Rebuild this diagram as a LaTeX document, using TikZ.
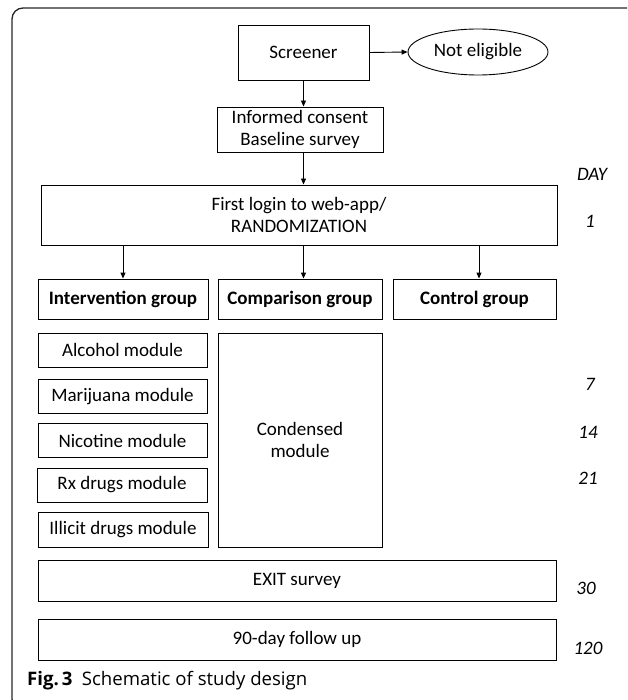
\documentclass[tikz,border=0pt]{standalone}
\usepackage{fontspec}
\setmainfont{Carlito}
\newfontfamily\capfont{Open Sans}
\usetikzlibrary{arrows.meta,shapes.geometric}
\begin{document}
\begin{tikzpicture}[x=1pt,y=-1pt,
  box/.style={draw=black, line width=0.9pt, rectangle, inner sep=0pt, align=center,
    font=\fontsize{19}{22}\selectfont},
  oval/.style={draw=black, line width=0.9pt, ellipse, inner sep=0pt, align=center,
    font=\fontsize{19}{22}\selectfont},
  daylab/.style={font=\fontsize{19}{22}\selectfont\itshape, inner sep=0pt},
  arr/.style={line width=0.9pt, -{Triangle[length=6pt,width=5pt]}}]
\useasboundingbox (0,0) rectangle (627,700);
\begin{scope}
\clip (0,0) rectangle (627,700);
\draw[line width=1.3pt, black!85, rounded corners=11pt] (12,8) rectangle (660,710);
\end{scope}
% nodes
\node[box, minimum width=131pt, minimum height=55pt] (scr) at (303.5,52.5) {Screener};
\node[oval, minimum width=140pt, minimum height=46pt] (nel) at (478,52) {Not eligible};
\node[box, minimum width=166pt, minimum height=45pt] (inf) at (300,129.5) {Informed consent\\ Baseline survey};
\node[box, minimum width=516pt, minimum height=60pt] (login) at (299,215) {First login to web-app/\\RANDOMIZATION};
\node[box, minimum width=170pt, minimum height=40pt, font=\fontsize{19}{22}\selectfont\bfseries] (intv) at (123,299) {Intervention group};
\node[box, minimum width=164pt, minimum height=40pt, font=\fontsize{19}{22}\selectfont\bfseries] (comp) at (300,299) {Comparison group};
\node[box, minimum width=163pt, minimum height=40pt, font=\fontsize{19}{22}\selectfont\bfseries] (ctrl) at (474.5,299) {Control group};
\node[box, minimum width=169pt, minimum height=34pt] (alc) at (122.5,350) {Alcohol module};
\node[box, minimum width=169pt, minimum height=34pt] (mar) at (122.5,396.5) {Marijuana module};
\node[box, minimum width=169pt, minimum height=34pt] (nic) at (122.5,440.5) {Nicotine module};
\node[box, minimum width=170pt, minimum height=34pt] (rx) at (122,485) {Rx drugs module};
\node[box, minimum width=170pt, minimum height=35pt] (ill) at (123,529.5) {Illicit drugs module};
\node[box, minimum width=164pt, minimum height=214pt] (cond) at (300,440) {Condensed\\module};
\node[box, minimum width=518pt, minimum height=41pt] (exit) at (297,580.5) {EXIT survey};
\node[box, minimum width=518pt, minimum height=41pt] (fu) at (297,639.5) {90-day follow up};
% day labels
\node[daylab] (dday) at (592,174) {DAY};
\node[daylab] (d1) at (590,221) {1};
\node[daylab] (d7) at (590,384) {7};
\node[daylab] (d14) at (588,432) {14};
\node[daylab] (d21) at (588,478) {21};
\node[daylab] (d30) at (586,588) {30};
\node[daylab] (d120) at (588,648) {120};
% caption
\node[anchor=west, inner sep=0pt, font=\capfont\fontsize{18.6}{22}\selectfont] (cap) at (27,681)
  {\textbf{Fig.\,3}\enspace Schematic of study design};
% connectors
\draw[arr] (scr.east) -- (nel.west);
\draw[arr] (scr.south) -- (scr.south |- inf.north);
\draw[arr] (scr.south |- inf.south) -- (scr.south |- login.north);
\draw[arr] (intv.north |- login.south) -- (intv.north);
\draw[arr] (scr.south |- login.south) -- (scr.south |- comp.north);
\draw[arr] ([xshift=4.5pt]ctrl.north |- login.south) -- ([xshift=4.5pt]ctrl.north);
\end{tikzpicture}
\end{document}
